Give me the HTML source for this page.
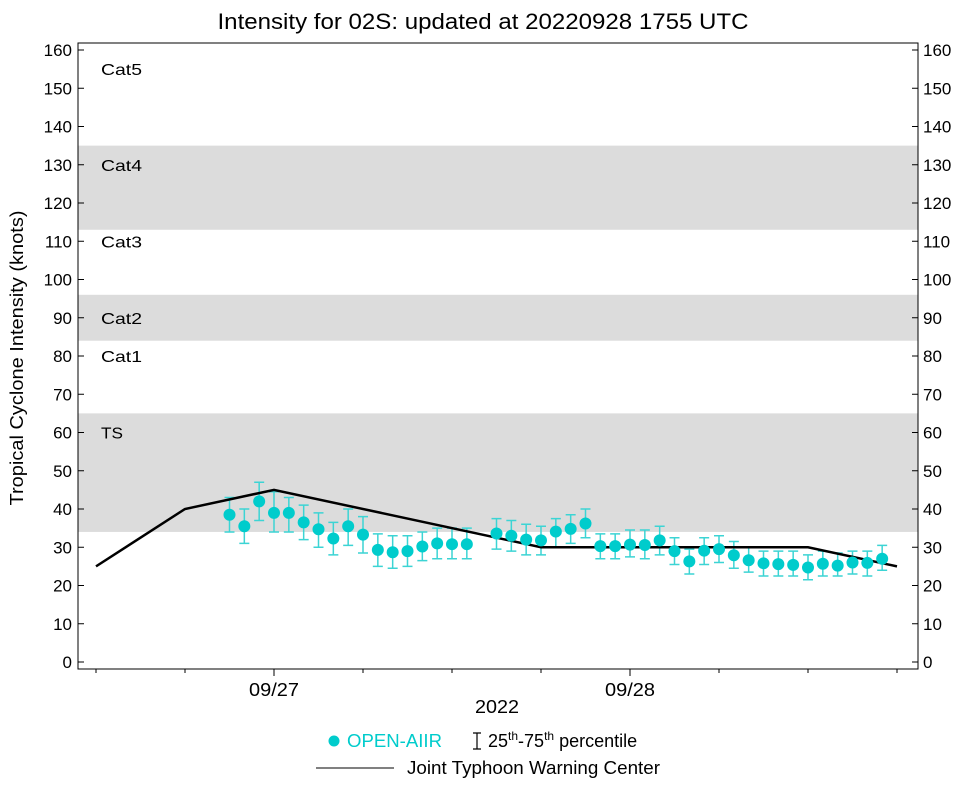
<!DOCTYPE html>
<html><head><meta charset="utf-8"><style>
body{margin:0;background:#fff;}
svg{display:block;font-family:"Liberation Sans",Arial,sans-serif;}
</style></head><body>
<svg id="c" width="964" height="786"></svg>
<script>
const hours=[-3,-2,-1,0,1,2,3,4,5,6,7,8,9,10,11,12,13,15,16,17,18,19,20,21,22,23,24,25,26,27,28,29,30,31,32,33,34,35,36,37,38,39,40,41];
const values=[38.5,35.5,42,39,39,36.5,34.7,32.3,35.5,33.3,29.3,28.7,29,30.2,31,30.8,30.8,33.6,33,32,31.8,34.1,34.8,36.2,30.3,30.3,30.7,30.6,31.8,29,26.3,29.1,29.5,27.9,26.6,25.8,25.6,25.4,24.7,25.7,25.2,26,25.9,27];
const p25=[34,31,37,34,34,32,30,28,30.5,28.5,25,24.5,25,26.5,27,27,27,29.5,29,28,28,30,31,32.5,27,27,27.5,27,28,25.5,23,25.5,26,24.5,23.5,22.5,22.5,22.5,21.5,22.5,22.5,23,22.5,24];
const p75=[43,40,47,44.5,43,41,39,36.5,40,38,33.5,33,33,34,35,35,35,37.5,37,36,35.5,37.5,38.5,40,33.5,33.5,34.5,34.5,35.5,32.5,29.5,32.5,33,31.5,30,29,29,29,28,29,28.5,29,29,30.5];
const jtwcHours=[-12,-6,0,18,36,42];
const jtwcValues=[25,40,45,30,30,25];
const yTicks=[0,10,20,30,40,50,60,70,80,90,100,110,120,130,140,150,160];
const bands=[{lo:34,hi:65,name:"TS",at:60,shade:1,w:22},{lo:64,hi:83,name:"Cat1",at:80,w:41},{lo:84,hi:96,name:"Cat2",at:90,shade:1,w:41},{lo:96,hi:113,name:"Cat3",at:110,w:41},{lo:113,hi:135,name:"Cat4",at:130,shade:1,w:41},{lo:137,hi:160,name:"Cat5",at:155,w:41}];
const L=78,R=918,T=50,B=662;
const y=v=>B-(v/160)*(B-T);
const x=h=>274+h*(356/24);
const svg=document.getElementById('c');
const NS="http://www.w3.org/2000/svg";
function el(t,a,txt){const e=document.createElementNS(NS,t);for(const k in a)e.setAttribute(k,a[k]);if(txt!=null)e.textContent=txt;svg.appendChild(e);return e;}
function fit(e,w){e.setAttribute('textLength',w);e.setAttribute('lengthAdjust','spacingAndGlyphs');}
bands.forEach(b=>{
 if(b.shade){const r=el('rect',{x:L,y:y(b.hi),width:R-L,height:y(b.lo)-y(b.hi),fill:'#dcdcdc'});
 
 }
 const t=el('text',{x:101,y:y(b.at)+6,'font-size':16},b.name);
 fit(t,b.w);
 
 
});
const frame=el('rect',{x:L,y:T-7,width:R-L,height:B+7-(T-7),fill:'none',stroke:'#000','stroke-width':1});


yTicks.forEach(v=>{
 el('line',{x1:L,x2:L+6,y1:y(v),y2:y(v),stroke:'#000'});
 el('line',{x1:R-6,x2:R,y1:y(v),y2:y(v),stroke:'#000'});
 const a=el('text',{x:L-6,y:y(v)+6,'font-size':17,'text-anchor':'end'},v);
 
 
 const b=el('text',{x:R+5,y:y(v)+6,'font-size':17},v);
 
 
});
for(let h=-12;h<=42;h+=6){const big=(h%24===0);el('line',{x1:x(h),x2:x(h),y1:B+7,y2:B+(big?14:11),stroke:'#000'});}
[[0,'09/27'],[24,'09/28']].forEach(d=>{const t=el('text',{x:x(d[0]),y:696,'font-size':18,'text-anchor':'middle'},d[1]);
 fit(t,50);
 
 });
let t=el('text',{x:497,y:713,'font-size':18,'text-anchor':'middle'},'2022');
fit(t,44);


t=el('text',{x:483,y:29,'font-size':22,'text-anchor':'middle'},'Intensity for 02S: updated at 20220928 1755 UTC');
fit(t,531);


t=el('text',{x:23,y:358,'font-size':18,'text-anchor':'middle',transform:'rotate(-90 23 358)'},'Tropical Cyclone Intensity (knots)');
fit(t,295);


hours.forEach((h,i)=>{
 const cx=x(h),c='#3cd4d4';
 const g=el('path',{d:`M${cx} ${y(p25[i])}V${y(p75[i])}M${cx-5} ${y(p25[i])}H${cx+5}M${cx-5} ${y(p75[i])}H${cx+5}`,stroke:c,'stroke-width':1.5,fill:'none'});
 
 
});
const line=el('polyline',{points:jtwcHours.map((h,i)=>x(h)+','+y(jtwcValues[i])).join(' '),fill:'none',stroke:'#000','stroke-width':2.5});


hours.forEach((h,i)=>{
 const p=el('circle',{cx:x(h),cy:y(values[i]),r:6,fill:'#00cccc'});
 
 
});
let c=el('circle',{cx:334,cy:741,r:5.5,fill:'#00cccc'});


t=el('text',{x:347,y:747,'font-size':18,fill:'#00cccc'},'OPEN-AIIR');
fit(t,95);


el('path',{d:'M477 733V749M473 733H481M473 749H481',stroke:'#000','stroke-width':1.2,fill:'none'});
t=el('text',{x:488,y:747,'font-size':18});
t.innerHTML='25<tspan font-size="12" dy="-7">th</tspan><tspan dy="7">-75</tspan><tspan font-size="12" dy="-7">th</tspan><tspan dy="7"> percentile</tspan>';


el('line',{x1:316,x2:394,y1:768,y2:768,stroke:'#000','stroke-width':1});
t=el('text',{x:407,y:774,'font-size':18},'Joint Typhoon Warning Center');
fit(t,253);


</script>
</body></html>
